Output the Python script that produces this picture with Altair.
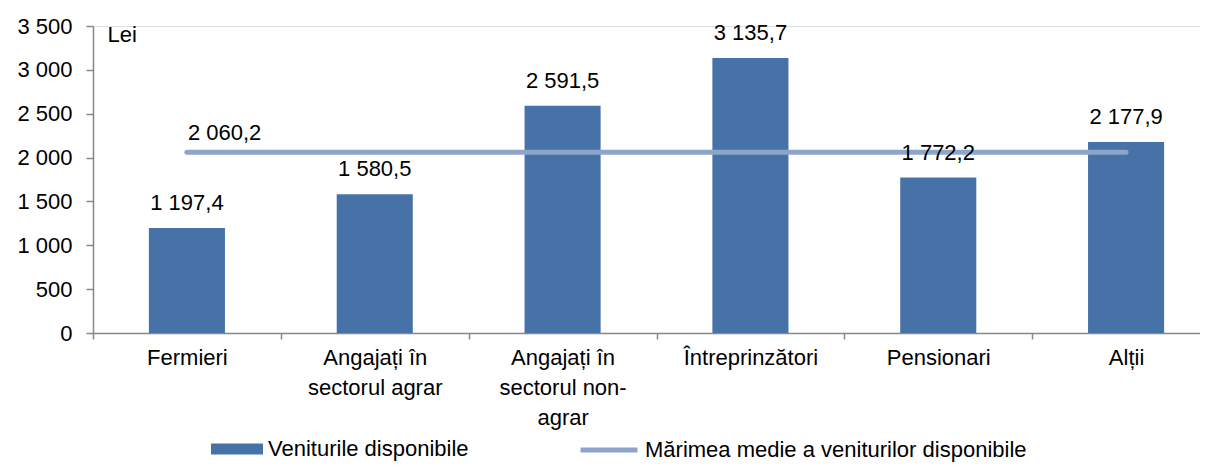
import altair as alt
import pandas as pd

categories = [
    "Fermieri",
    "Angajați în\nsectorul agrar",
    "Angajați în\nsectorul non-\nagrar",
    "Întreprinzători",
    "Pensionari",
    "Alții",
]
income = [1197.4, 1580.5, 2591.5, 3135.7, 1772.2, 2177.9]
mean_income = 2060.2
bar_series = "Veniturile disponibile"
line_series = "Mărimea medie a veniturilor disponibile"
y_ticks = [0, 500, 1000, 1500, 2000, 2500, 3000, 3500]
unit_label = "Lei"

BAR_COLOR = "#4672A7"
LINE_COLOR = "#8EA5CB"
AXIS_COLOR = "#888888"
FONT = "Liberation Sans"


def fmt(v):
    s = f"{v:,.1f}"
    return s.replace(",", " ").replace(".", ",")


bars_df = pd.DataFrame({
    "cat": categories,
    "value": income,
    "label": [fmt(v) for v in income],
    "bar_series": bar_series,
})
line_df = pd.DataFrame({
    "cat": categories,
    "value": [mean_income] * len(categories),
    "label": [fmt(mean_income)] + [""] * (len(categories) - 1),
    "line_series": line_series,
})

x_enc = alt.X(
    "cat:N",
    sort=categories,
    scale=alt.Scale(range=[0, 1127], paddingInner=0, paddingOuter=0),
    axis=alt.Axis(
        title=None,
        labelExpr="split(datum.label, '\\n')",
        labelAngle=0,
        labelLineHeight=30,
        labelPadding=8,
        tickBand="extent",
        tickSize=6,
        labelFontSize=22,
    ),
)
y_enc = alt.Y(
    "value:Q",
    scale=alt.Scale(domain=[0, 3500], nice=False),
    axis=alt.Axis(
        values=y_ticks,
        labelExpr="replace(format(datum.value, ','), ',', ' ')",
        grid=False,
        tickSize=7,
        labelPadding=14,
        labelFontSize=22,
        title=unit_label,
        titleAngle=0,
        titleX=14,
        titleY=-2,
        titleAlign="left",
        titleBaseline="top",
        titleFontSize=22,
        titleFontWeight="normal",
        titleColor="black",
    ),
)

bars = alt.Chart(bars_df).mark_bar(width=alt.RelativeBandSize(0.405)).encode(
    x=x_enc,
    y=y_enc,
    fill=alt.Fill(
        "bar_series:N",
        scale=alt.Scale(domain=[bar_series], range=[BAR_COLOR]),
        legend=alt.Legend(
            title=None,
            orient="none",
            legendX=118,
            legendY=397,
            symbolType="M-1,-0.21H1V0.21H-1Z",
            symbolSize=2704,
            symbolStrokeWidth=0,
            labelFontSize=22,
            labelOffset=5,
            labelColor="black",
            labelLimit=600,
        ),
    ),
)

bar_labels = alt.Chart(bars_df).mark_text(
    baseline="bottom", dy=-13, fontSize=22, color="black", font=FONT
).encode(x=x_enc, y=y_enc, text="label:N")

line = alt.Chart(line_df).mark_line(strokeWidth=5, strokeCap="round").encode(
    x=x_enc,
    y=y_enc,
    stroke=alt.Stroke(
        "line_series:N",
        scale=alt.Scale(domain=[line_series], range=[LINE_COLOR]),
        legend=alt.Legend(
            title=None,
            orient="none",
            legendX=485,
            legendY=393,
            symbolType="stroke",
            symbolSize=3249,
            symbolStrokeWidth=5,
            labelFontSize=22,
            labelOffset=5,
            labelColor="black",
            labelLimit=800,
        ),
    ),
)

line_label = alt.Chart(line_df).transform_filter(
    alt.datum.label != ""
).mark_text(
    align="left", baseline="bottom", dx=1, dy=-7, fontSize=22, color="black", font=FONT
).encode(x=x_enc, y=y_enc, text="label:N")

chart = alt.layer(bars, line, bar_labels, line_label).resolve_scale(
    fill="independent", stroke="independent"
).properties(
    width=1107,
    height=307,
    autosize="none",
    padding={"left": 85, "top": 18, "right": 0, "bottom": 129},
).configure_view(stroke=None).configure(
    font=FONT
).configure_axis(
    domainColor=AXIS_COLOR,
    tickColor=AXIS_COLOR,
    domainWidth=1.5,
    tickWidth=1.5,
    labelColor="black",
    labelFont=FONT,
    titleFont=FONT,
).configure_legend(
    labelFont=FONT,
)

chart.save("out.html", embed_options={"renderer": "svg", "actions": False})
